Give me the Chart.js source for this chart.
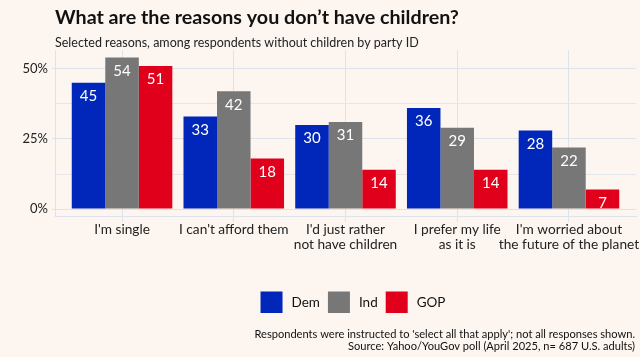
<!DOCTYPE html>
<html>
<head>
<meta charset="utf-8">
<script src="https://cdn.jsdelivr.net/npm/chart.js@4"></script>
<style>
  html, body { margin: 0; padding: 0; background: #FDF6F0; }
  #wrap { width: 640px; height: 357px; position: relative; }
</style>
</head>
<body>
<div id="wrap"><canvas id="c" width="640" height="357"></canvas></div>
<script>
const categories = [
  "I'm single",
  "I can't afford them",
  ["I'd just rather", "not have children"],
  ["I prefer my life", "as it is"],
  ["I'm worried about", "the future of the planet"]
];
const seriesNames = ["Dem", "Ind", "GOP"];
const demValues = [45, 33, 30, 36, 28];
const indValues = [54, 42, 31, 29, 22];
const gopValues = [51, 18, 14, 14, 7];
const yTickValues = [0, 12.5, 25, 37.5, 50];
const yTickLabels = { 0: "0%", 25: "25%", 50: "50%" };
const titleText = "What are the reasons you don\u2019t have children?";
const subtitleText = "Selected reasons, among respondents without children by party ID";
const captionLines = [
  "Respondents were instructed to 'select all that apply'; not all responses shown.",
  "Source: Yahoo/YouGov poll (April 2025, n= 687 U.S. adults)"
];

const colors = ["#0027BA", "#777777", "#E1001B"];
const BG = "#FDF6F0";
const GRID = "#DEE2EA";
const FONT = "Lato, 'Open Sans', sans-serif";

const textPlugin = {
  id: "texts",
  beforeDraw(chart) {
    const ctx = chart.ctx;
    ctx.save();
    ctx.fillStyle = BG;
    ctx.fillRect(0, 0, chart.width, chart.height);
    ctx.restore();
  },
  afterDraw(chart) {
    const ctx = chart.ctx;
    const area = chart.chartArea;
    ctx.save();
    // title
    ctx.fillStyle = "#111111";
    ctx.textAlign = "left";
    ctx.textBaseline = "alphabetic";
    ctx.font = "bold 19.7px " + FONT;
    ctx.fillText(titleText, area.left, 24);
    ctx.font = "12.5px " + FONT;
    ctx.fillStyle = "#222222";
    ctx.fillText(subtitleText, area.left, 47);
    // legend
    ctx.font = "13.5px " + FONT;
    const box = 22, gapBox = 9, gapItem = 8;
    const widths = seriesNames.map(n => ctx.measureText(n).width);
    let total = 0;
    widths.forEach((w, i) => { total += box + gapBox + w + (i < widths.length - 1 ? gapItem : 0); });
    let x = 353 - total / 2;
    const boxTop = 291.5;
    seriesNames.forEach((n, i) => {
      ctx.fillStyle = colors[i];
      ctx.fillRect(x, boxTop, box, 21.5);
      x += box + gapBox;
      ctx.fillStyle = "#111111";
      ctx.textBaseline = "middle";
      ctx.fillText(n, x, boxTop + 11);
      x += widths[i] + gapItem;
    });
    // caption
    ctx.font = "11.1px " + FONT;
    ctx.textAlign = "right";
    ctx.textBaseline = "alphabetic";
    ctx.fillStyle = "#111111";
    ctx.fillText(captionLines[0], 635, 337.5);
    ctx.fillText(captionLines[1], 635, 349.5);
    ctx.restore();
  },
  afterDatasetsDraw(chart) {
    const ctx = chart.ctx;
    ctx.save();
    ctx.font = "15px " + FONT;
    ctx.fillStyle = "#FFFFFF";
    ctx.textAlign = "center";
    ctx.textBaseline = "middle";
    chart.data.datasets.forEach((ds, di) => {
      const meta = chart.getDatasetMeta(di);
      meta.data.forEach((el, i) => {
        ctx.fillText(String(ds.data[i]), el.x, el.y + 13.5);
      });
    });
    ctx.restore();
  }
};

new Chart(document.getElementById("c"), {
  type: "bar",
  data: {
    labels: categories,
    datasets: seriesNames.map((n, i) => ({
      label: n,
      data: [demValues, indValues, gopValues][i],
      backgroundColor: colors[i],
      borderWidth: 0,
      categoryPercentage: 0.9,
      barPercentage: 1.0
    }))
  },
  options: {
    responsive: false,
    animation: false,
    devicePixelRatio: 1,
    layout: { padding: { top: 50, left: 0, right: 4, bottom: 0 } },
    plugins: {
      legend: { display: false },
      title: { display: false },
      tooltip: { enabled: false }
    },
    scales: {
      x: {
        type: "category",
        offset: true,
        afterFit(scale) {
          scale.height = 140.3;
          scale.paddingLeft = 0;
          scale.paddingRight = 0;
        },
        afterUpdate(scale) {
          scale._startValue = -0.6;
          scale._valueRange = 5.2;
        },
        grid: {
          offset: false,
          color: GRID,
          lineWidth: 1,
          tickLength: 5,
          tickColor: GRID
        },
        border: { display: true, color: GRID, width: 1 },
        ticks: {
          autoSkip: false,
          maxRotation: 0,
          minRotation: 0,
          padding: 0,
          color: "#222222",
          font: { family: FONT, size: 13.7, lineHeight: 1.1 }
        }
      },
      y: {
        min: -2.7,
        max: 56.7,
        afterFit(scale) {
          scale.width = 55;
          scale.paddingTop = 0;
          scale.paddingBottom = 0;
        },
        afterBuildTicks(scale) {
          scale.ticks = yTickValues.map(v => ({ value: v }));
        },
        grid: {
          color: GRID,
          lineWidth: ctx => (ctx.tick && yTickLabels[ctx.tick.value] !== undefined) ? 1 : 0.8,
          tickLength: 3,
          tickColor: ctx => (ctx.tick && yTickLabels[ctx.tick.value] !== undefined) ? GRID : "rgba(0,0,0,0)"
        },
        border: { display: true, color: GRID, width: 1 },
        ticks: {
          padding: 4,
          color: "#222222",
          font: { family: FONT, size: 13 },
          callback: v => (yTickLabels[v] !== undefined ? yTickLabels[v] : "")
        }
      }
    }
  },
  plugins: [textPlugin]
});
</script>
</body>
</html>
